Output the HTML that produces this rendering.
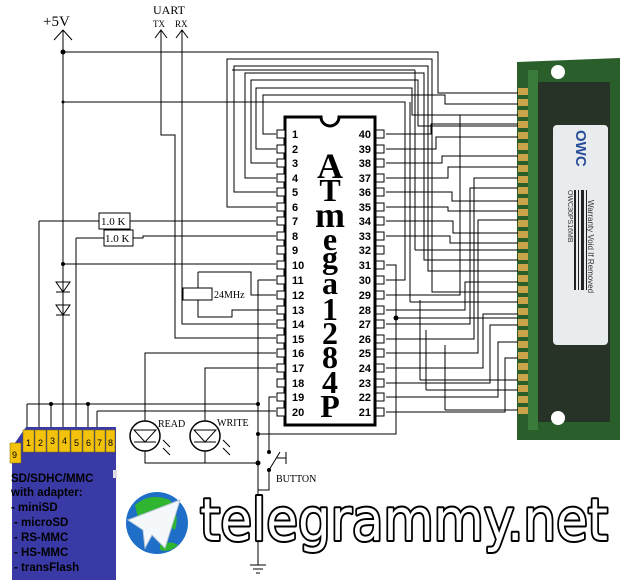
<!DOCTYPE html>
<html><head><meta charset="utf-8"><style>
html,body{margin:0;padding:0;background:#fff;}
svg{display:block;}
</style></head><body>
<svg width="628" height="583" viewBox="0 0 628 583" xmlns="http://www.w3.org/2000/svg" font-family="Liberation Serif, serif">
<rect width="628" height="583" fill="#fff"/>
<!-- memory module -->
<g>
<path d="M517 90 L517 62 L620 58 L620 440 L517 440 Z" fill="#2a5e2a"/>
<rect x="538" y="82" width="72" height="340" fill="#263326"/>
<rect x="528" y="70" width="10" height="360" fill="#3a7a3a"/>
<rect x="553" y="125" width="55" height="220" rx="4" fill="#e8ecee"/>
<text transform="translate(576,130) rotate(90)" font-family="Liberation Sans, sans-serif" font-weight="bold" font-size="15" fill="#2a4d9a">OWC</text>
<text transform="translate(588,200) rotate(90)" font-family="Liberation Sans, sans-serif" font-size="8" fill="#333">Warranty Void If Removed</text>
<text transform="translate(568,190) rotate(90)" font-family="Liberation Sans, sans-serif" font-size="7" fill="#333">OWC30PS16MB</text>
<g fill="#222">
<rect x="574" y="190" width="2" height="100"/><rect x="578" y="190" width="1" height="100"/><rect x="581" y="190" width="3" height="100"/><rect x="586" y="190" width="1" height="100"/>
</g>
<circle cx="558" cy="72" r="7" fill="#fff"/>
<circle cx="558" cy="418" r="7" fill="#fff"/>
<g fill="#c9a44a">
<rect x="518" y="88" width="10" height="7"/><rect x="518" y="99" width="10" height="7"/><rect x="518" y="110" width="10" height="7"/><rect x="518" y="121" width="10" height="7"/><rect x="518" y="132" width="10" height="7"/><rect x="518" y="143" width="10" height="7"/><rect x="518" y="154" width="10" height="7"/><rect x="518" y="165" width="10" height="7"/><rect x="518" y="176" width="10" height="7"/><rect x="518" y="187" width="10" height="7"/><rect x="518" y="198" width="10" height="7"/><rect x="518" y="209" width="10" height="7"/><rect x="518" y="220" width="10" height="7"/><rect x="518" y="231" width="10" height="7"/><rect x="518" y="242" width="10" height="7"/><rect x="518" y="253" width="10" height="7"/><rect x="518" y="264" width="10" height="7"/><rect x="518" y="275" width="10" height="7"/><rect x="518" y="286" width="10" height="7"/><rect x="518" y="297" width="10" height="7"/><rect x="518" y="308" width="10" height="7"/><rect x="518" y="319" width="10" height="7"/><rect x="518" y="330" width="10" height="7"/><rect x="518" y="341" width="10" height="7"/><rect x="518" y="352" width="10" height="7"/><rect x="518" y="363" width="10" height="7"/><rect x="518" y="374" width="10" height="7"/><rect x="518" y="385" width="10" height="7"/><rect x="518" y="396" width="10" height="7"/><rect x="518" y="407" width="10" height="7"/>
</g>
</g>
<g fill="none" stroke="#000" stroke-width="1">
<path d="M63 30 V420"/><path d="M54 40 L63 30 L72 40"/>
<path d="M63 52 H438 V93 H518"/>
<path d="M63 102 H405 V280 H386"/>
<path d="M161 30 V135 H175 V338 H276"/><path d="M155 38 L161 30 L167 38"/>
<path d="M182 30 V324 H276"/><path d="M176 38 L182 30 L188 38"/>
<path d="M276 134 H263 V95 H445 V104 H518"/>
<path d="M276 149 H256 V88 H412 V115 H518"/>
<path d="M276 163 H251 V80 H418 V126 H518"/>
<path d="M276 178 H245 V73 H424 V260 H518"/>
<path d="M276 192 H234 V66 H428 V271 H518"/>
<path d="M276 207 H227 V59 H432 V292 H518"/>
<path d="M386 134 H431 V124 H518"/>
<path d="M386 149 H436 V137 H518"/>
<path d="M386 163 H442 V156 H518"/>
<path d="M386 178 H448 V167 H518"/>
<path d="M386 192 H452 V201 H518"/>
<path d="M386 207 H448 V211 H518"/>
<path d="M386 221 H453 V233 H518"/>
<path d="M386 236 H450 V243 H518"/>
<path d="M386 265 H396 V434 H258"/>
<path d="M386 295 H460 V115"/>
<path d="M386 310 H465 V282 H518"/>
<path d="M386 324 H470 V188 H518"/>
<path d="M386 339 H474 V178 H518"/>
<path d="M386 353 H478 V220 H518"/>
<path d="M386 368 H483 V314 H518"/>
<path d="M386 383 H490 V325 H518"/>
<path d="M386 397 H498 V342 H518"/>
<path d="M386 412 H505 V358 H518"/>
<path d="M396 318 H518"/>
<path d="M410 302 H518"/><path d="M410 102 V302"/>
<path d="M415 250 H518"/><path d="M415 70 V250"/><path d="M232 70 H415"/>
<path d="M420 380 H518"/><path d="M420 300 V380"/>
<path d="M426 390 H518"/><path d="M426 330 V390"/>
<path d="M445 410 H518"/><path d="M445 345 V410"/>
<path d="M39 221 H99"/><path d="M130 221 H276"/>
<path d="M39 221 V404"/>
<path d="M76 238 H104"/><path d="M133 238 H143 V236 H276"/>
<path d="M76 238 V404"/>
<path d="M63 264 H276"/>
<path d="M198 272 H251 V295 H276"/><path d="M198 272 V288"/><path d="M198 300 V317 H232 V310 H276"/>
<path d="M258 280 H276"/><path d="M258 280 V565"/>
<path d="M276 353 H145 V421"/>
<path d="M276 368 H205 V421"/>
<path d="M145 451 V463 H258"/>
<path d="M205 451 V463"/>
<path d="M27 404 H258"/>
<path d="M97 411 H276"/>
<path d="M276 397 H269 V450"/>
<path d="M269 470 V490 H258"/>
<path d="M27 404 V430"/><path d="M39 380 V430"/><path d="M51 404 V430"/><path d="M63 420 V430"/><path d="M76 380 V430"/><path d="M88 404 V430"/><path d="M97 411 V430"/>
</g>
<g fill="#000">
<circle cx="63" cy="52" r="2.5"/><circle cx="63" cy="102" r="1.5"/><circle cx="63" cy="264" r="2"/>
<circle cx="51" cy="404" r="2"/><circle cx="88" cy="404" r="2"/><circle cx="258" cy="404" r="2"/>
<circle cx="258" cy="434" r="2"/><circle cx="258" cy="463" r="2.5"/><circle cx="396" cy="318" r="2.5"/>
<circle cx="269" cy="452" r="2"/><circle cx="269" cy="470" r="2"/>
</g>
<g fill="none" stroke="#000">
<path d="M56 282 H70 L63 292 Z M56 292 H70"/>
<path d="M56 305 H70 L63 315 Z M56 315 H70"/>
<rect x="99" y="213" width="31" height="16" fill="#fff"/>
<rect x="104" y="230" width="29" height="16" fill="#fff"/>
<rect x="183" y="288" width="29" height="12" fill="#fff"/>
<circle cx="145" cy="436" r="15" stroke-width="1.5"/><path d="M134 430 H156 L145 442 Z M134 442 H156"/>
<circle cx="205" cy="436" r="15" stroke-width="1.5"/><path d="M194 430 H216 L205 442 Z M194 442 H216"/>
<path d="M163 440 L170 447 M163 448 L170 455"/><path d="M223 440 L230 447 M223 448 L230 455"/>
<path d="M269 470 L280 452 M276 458 H286 M286 452 V464"/>
<path d="M250 565 H266 M253 569 H263 M256 573 H260"/>
</g>
<g font-size="11">
<text x="101" y="225">1.0 K</text><text x="105" y="242">1.0 K</text>
<text x="214" y="298" font-size="10">24MHz</text>
<text x="158" y="427" font-size="10">READ</text><text x="217" y="426" font-size="10">WRITE</text>
<text x="276" y="482" font-size="10">BUTTON</text>
<text x="43" y="26" font-size="15">+5V</text>
<text x="153" y="14" font-size="12">UART</text>
<text x="153" y="27" font-size="9">TX</text><text x="175" y="27" font-size="9">RX</text>
</g>
<path d="M285 117 H321 A9 9 0 0 0 339 117 H375 V425 H285 Z" fill="#fff" stroke="#000" stroke-width="3"/>
<g fill="#fff" stroke="#000" stroke-width="1">
<rect x="277" y="130" width="8" height="8"/><rect x="277" y="145" width="8" height="8"/><rect x="277" y="159" width="8" height="8"/><rect x="277" y="174" width="8" height="8"/><rect x="277" y="188" width="8" height="8"/><rect x="277" y="203" width="8" height="8"/><rect x="277" y="217" width="8" height="8"/><rect x="277" y="232" width="8" height="8"/><rect x="277" y="246" width="8" height="8"/><rect x="277" y="261" width="8" height="8"/><rect x="277" y="276" width="8" height="8"/><rect x="277" y="291" width="8" height="8"/><rect x="277" y="306" width="8" height="8"/><rect x="277" y="320" width="8" height="8"/><rect x="277" y="335" width="8" height="8"/><rect x="277" y="349" width="8" height="8"/><rect x="277" y="364" width="8" height="8"/><rect x="277" y="379" width="8" height="8"/><rect x="277" y="393" width="8" height="8"/><rect x="277" y="408" width="8" height="8"/>
<rect x="376" y="130" width="8" height="8"/><rect x="376" y="145" width="8" height="8"/><rect x="376" y="159" width="8" height="8"/><rect x="376" y="174" width="8" height="8"/><rect x="376" y="188" width="8" height="8"/><rect x="376" y="203" width="8" height="8"/><rect x="376" y="217" width="8" height="8"/><rect x="376" y="232" width="8" height="8"/><rect x="376" y="246" width="8" height="8"/><rect x="376" y="261" width="8" height="8"/><rect x="376" y="276" width="8" height="8"/><rect x="376" y="291" width="8" height="8"/><rect x="376" y="306" width="8" height="8"/><rect x="376" y="320" width="8" height="8"/><rect x="376" y="335" width="8" height="8"/><rect x="376" y="349" width="8" height="8"/><rect x="376" y="364" width="8" height="8"/><rect x="376" y="379" width="8" height="8"/><rect x="376" y="393" width="8" height="8"/><rect x="376" y="408" width="8" height="8"/>
</g>
<g font-family="Liberation Sans, sans-serif" font-weight="bold" font-size="11">
<g text-anchor="start">
<text x="292" y="138">1</text><text x="292" y="153">2</text><text x="292" y="167">3</text><text x="292" y="182">4</text><text x="292" y="196">5</text><text x="292" y="211">6</text><text x="292" y="225">7</text><text x="292" y="240">8</text><text x="292" y="254">9</text><text x="292" y="269">10</text><text x="292" y="284">11</text><text x="292" y="299">12</text><text x="292" y="314">13</text><text x="292" y="328">14</text><text x="292" y="343">15</text><text x="292" y="357">16</text><text x="292" y="372">17</text><text x="292" y="387">18</text><text x="292" y="401">19</text><text x="292" y="416">20</text>
</g>
<g text-anchor="end">
<text x="371" y="138">40</text><text x="371" y="153">39</text><text x="371" y="167">38</text><text x="371" y="182">37</text><text x="371" y="196">36</text><text x="371" y="211">35</text><text x="371" y="225">34</text><text x="371" y="240">33</text><text x="371" y="254">32</text><text x="371" y="269">31</text><text x="371" y="284">30</text><text x="371" y="299">29</text><text x="371" y="314">28</text><text x="371" y="328">27</text><text x="371" y="343">26</text><text x="371" y="357">25</text><text x="371" y="372">24</text><text x="371" y="387">23</text><text x="371" y="401">22</text><text x="371" y="416">21</text>
</g>
</g>
<g font-family="Liberation Serif, serif" font-weight="bold" font-size="32" text-anchor="middle">
<text x="330" y="178" font-size="36">A</text><text x="330" y="201">T</text><text x="330" y="227" font-size="36">m</text><text x="330" y="250">e</text><text x="330" y="268">g</text><text x="330" y="294">a</text><text x="330" y="320">1</text><text x="330" y="344">2</text><text x="330" y="368">8</text><text x="330" y="393">4</text><text x="330" y="417">P</text>
</g>
<path d="M12 447 L26 427 H116 V580 H12 Z" fill="#3a3aa6"/>
<g fill="#f2c20c" stroke="#7a6a00" stroke-width="0.5">
<rect x="10" y="443" width="11" height="20"/><rect x="23" y="430" width="11" height="22"/><rect x="35" y="430" width="11" height="22"/><rect x="47" y="430" width="11" height="22"/><rect x="59" y="430" width="11" height="22"/><rect x="71" y="430" width="11" height="22"/><rect x="83" y="430" width="11" height="22"/><rect x="95" y="430" width="10" height="22"/><rect x="106" y="430" width="9" height="22"/>
</g>
<g font-family="Liberation Sans, sans-serif" font-size="9" fill="#000">
<text x="12" y="458">9</text><text x="26" y="446">1</text><text x="38" y="446">2</text><text x="50" y="444">3</text><text x="62" y="444">4</text><text x="74" y="446">5</text><text x="86" y="446">6</text><text x="97" y="446">7</text><text x="108" y="446">8</text>
</g>
<rect x="113" y="470" width="4" height="8" fill="#ddd"/>
<g font-family="Liberation Sans, sans-serif" font-weight="bold" font-size="11.5" fill="#000">
<text x="11" y="482">SD/SDHC/MMC</text><text x="11" y="496">with adapter:</text><text x="11" y="511">- miniSD</text><text x="14" y="526">- microSD</text><text x="14" y="541">- RS-MMC</text><text x="14" y="556">- HS-MMC</text><text x="14" y="571">- transFlash</text>
</g>
<circle cx="157" cy="523" r="31" fill="#1f6fc8"/>
<path d="M135 505 Q150 492 170 500 Q180 515 175 530 Q160 520 150 535 Q140 530 135 505 Z" fill="#2fb52f"/>
<path d="M160 545 Q170 540 178 545 Q170 553 160 550 Z" fill="#2fb52f"/>
<path d="M128 520 L180 500 L165 548 L152 535 L145 548 L143 530 Z" fill="#f4f8fb" stroke="#b8c8d8" stroke-width="1"/>
<text x="200" y="540" font-family="DejaVu Sans, Liberation Sans, sans-serif" font-size="58" textLength="408" lengthAdjust="spacingAndGlyphs" fill="#fff" stroke="#000" stroke-width="4" paint-order="stroke" stroke-linejoin="round">telegrammy.net</text>
</svg>
</body></html>
